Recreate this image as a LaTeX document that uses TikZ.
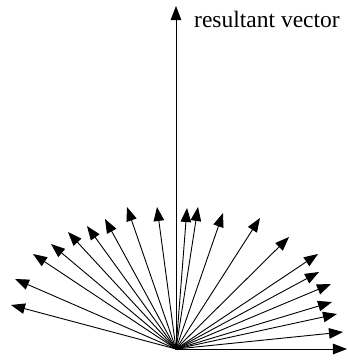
\documentclass[tikz,border=0pt]{standalone}
\usepackage{fontspec}
\setmainfont{Liberation Serif}
\usetikzlibrary{arrows.meta}
\begin{document}
\begin{tikzpicture}[x=1pt,y=-1pt,
  vec/.style={line width=0.9pt,-{Triangle[length=14pt,width=10.5pt]}},
  lbl/.style={font=\fontsize{23.5}{26}\selectfont,inner sep=0pt,anchor=base west}]
\useasboundingbox (0,0) rectangle (348,360);
\coordinate (O) at (176,349);
\coordinate (R) at (176,6);
\node[lbl] (L) at (194,27) {resultant vector};
\foreach \n/\x/\y in {1/11/305,2/15/279,3/33/254,4/51/244,5/68/232,6/87/226,7/105/219,8/127/207,9/157/207,10/187/208,11/198/207,12/223/213,13/260/218,14/289/237,15/318/254,16/319/272,17/331/284,18/332/302,19/337/314,20/343/332,21/347/349}
  \coordinate (t\n) at (\x,\y);
\foreach \n in {1,...,21}
  \draw[vec] (O) -- (t\n);
\draw[vec] (O) -- (R);
\end{tikzpicture}
\end{document}
